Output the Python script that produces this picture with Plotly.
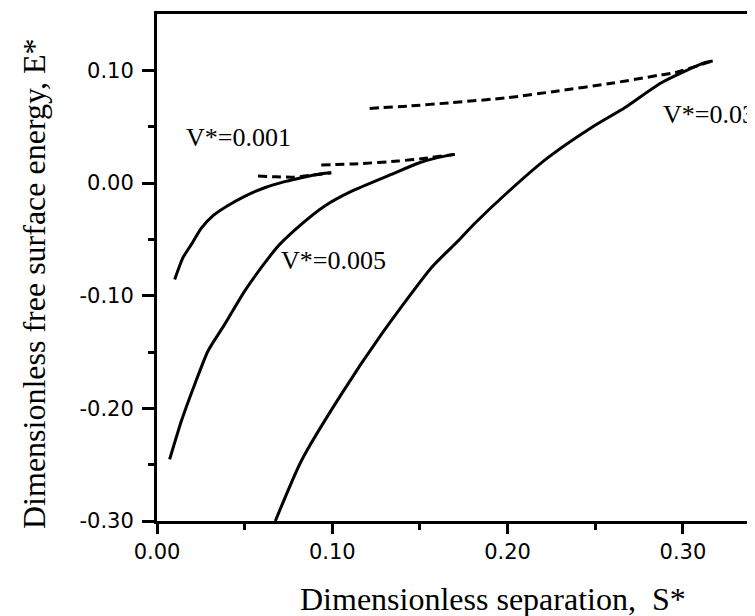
import plotly.graph_objects as go

# ---- data ----
s_001_solid = [0.0101, 0.0148, 0.0196, 0.0253, 0.0320, 0.0405, 0.0500, 0.0614, 0.0728, 0.0823, 0.0937, 0.0994]
e_001_solid = [-0.0856, -0.0663, -0.0545, -0.0400, -0.0290, -0.0200, -0.0118, -0.0042, 0.0012, 0.0047, 0.0083, 0.0091]
s_001_dash = [0.0576, 0.0680, 0.0780, 0.0880, 0.0994]
e_001_dash = [0.0062, 0.0055, 0.0052, 0.0068, 0.0091]

s_005_solid = [0.0072, 0.0139, 0.0215, 0.0291, 0.0386, 0.0500, 0.0652, 0.0700, 0.0823, 0.0957, 0.1108, 0.1337, 0.1489, 0.1600, 0.1698]
e_005_solid = [-0.2453, -0.2112, -0.1788, -0.1491, -0.1255, -0.0959, -0.0634, -0.0545, -0.0367, -0.0204, -0.0075, 0.0076, 0.0175, 0.0225, 0.0254]
s_005_dash = [0.0937, 0.1147, 0.1375, 0.1520, 0.1698]
e_005_dash = [0.0160, 0.0171, 0.0195, 0.0218, 0.0254]

s_03_solid = [0.0675, 0.0823, 0.1051, 0.1280, 0.1565, 0.1717, 0.1812, 0.2002, 0.2230, 0.2477, 0.2668, 0.2877, 0.3124, 0.3170]
e_03_solid = [-0.300, -0.2467, -0.1876, -0.1344, -0.0752, -0.0515, -0.0360, -0.0080, 0.0225, 0.0491, 0.0668, 0.0890, 0.1068, 0.1083]
s_03_dash = [0.1213, 0.1432, 0.1680, 0.2002, 0.2287, 0.2573, 0.2858, 0.2953, 0.3170]
e_03_dash = [0.0662, 0.0683, 0.0713, 0.0757, 0.0817, 0.0880, 0.0955, 0.0980, 0.1083]

x_tickvals = [0.0, 0.1, 0.2, 0.3]
x_ticktext = ["0.00", "0.10", "0.20", "0.30"]
y_tickvals = [-0.3, -0.2, -0.1, 0.0, 0.1]
y_ticktext = ["-0.30", "-0.20", "-0.10", "0.00", "0.10"]

labels = ["V*=0.001", "V*=0.005", "V*=0.03"]

# ---- figure ----
W, H = 755, 616
ML, MR, MT, MB = 149, 0, 6, 103
PW, PH = W - ML - MR, H - MT - MB

def px_x(px):
    return (px - ML) / PW

def px_y(py):
    return (H - MB - py) / PH

fig = go.Figure()
solid = dict(color="black", width=3)
dashed = dict(color="black", width=3, dash="9px,5px")
for xs, ys, ln in [
    (s_001_solid, e_001_solid, solid), (s_001_dash, e_001_dash, dashed),
    (s_005_solid, e_005_solid, solid), (s_005_dash, e_005_dash, dashed),
    (s_03_solid, e_03_solid, solid), (s_03_dash, e_03_dash, dashed),
]:
    fig.add_trace(go.Scatter(x=xs, y=ys, mode="lines", line=dict(shape="spline", smoothing=0.6, **ln),
                             showlegend=False, hoverinfo="skip", cliponaxis=False))

serif = "Liberation Serif, Times New Roman, serif"
ann = []
for txt, (px, py, anchor) in zip(labels, [(176, 129, "left"), (271, 252.5, "left"), (749, 106.7, "right")]):
    ann.append(dict(text=txt, x=px_x(px), y=px_y(py), xref="paper", yref="paper",
                    xanchor=anchor, yanchor="middle", showarrow=False,
                    font=dict(family=serif, size=26, color="black")))
ann.append(dict(text="Dimensionless separation,  S*", x=px_x(485), y=px_y(591), xref="paper", yref="paper",
                xanchor="center", yanchor="middle", showarrow=False,
                font=dict(family=serif, size=32, color="black")))
ann.append(dict(text="Dimensionless free surface energy, E*", x=px_x(26), y=px_y(276), xref="paper", yref="paper",
                xanchor="center", yanchor="middle", showarrow=False, textangle=-90,
                font=dict(family=serif, size=32, color="black")))

tickfont = dict(family="DejaVu Sans, sans-serif", size=21, color="black")
fig.update_layout(
    width=W, height=H, margin=dict(l=ML, r=MR, t=MT, b=MB, pad=0),
    paper_bgcolor="white", plot_bgcolor="white",
    annotations=ann,
    xaxis=dict(range=[0, PW / 1753.0], showgrid=False, zeroline=False,
               showline=True, linecolor="black", linewidth=3, mirror=True,
               ticks="outside", ticklen=10, tickwidth=3, tickcolor="black",
               tickvals=x_tickvals, ticktext=x_ticktext, tickfont=tickfont,
               minor=dict(tickvals=[0.05, 0.15, 0.25], ticks="outside", ticklen=6, tickwidth=3, tickcolor="black")),
    yaxis=dict(range=[-0.30, 0.15], showgrid=False, zeroline=False,
               showline=True, linecolor="black", linewidth=3,
               ticks="outside", ticklen=12, tickwidth=3, tickcolor="black",
               tickvals=y_tickvals, ticktext=y_ticktext, tickfont=tickfont,
               ticklabelstandoff=4,
               minor=dict(tickvals=[-0.25, -0.15, -0.05, 0.05], ticks="outside", ticklen=6, tickwidth=3, tickcolor="black")),
)

fig.write_html("out.html")
